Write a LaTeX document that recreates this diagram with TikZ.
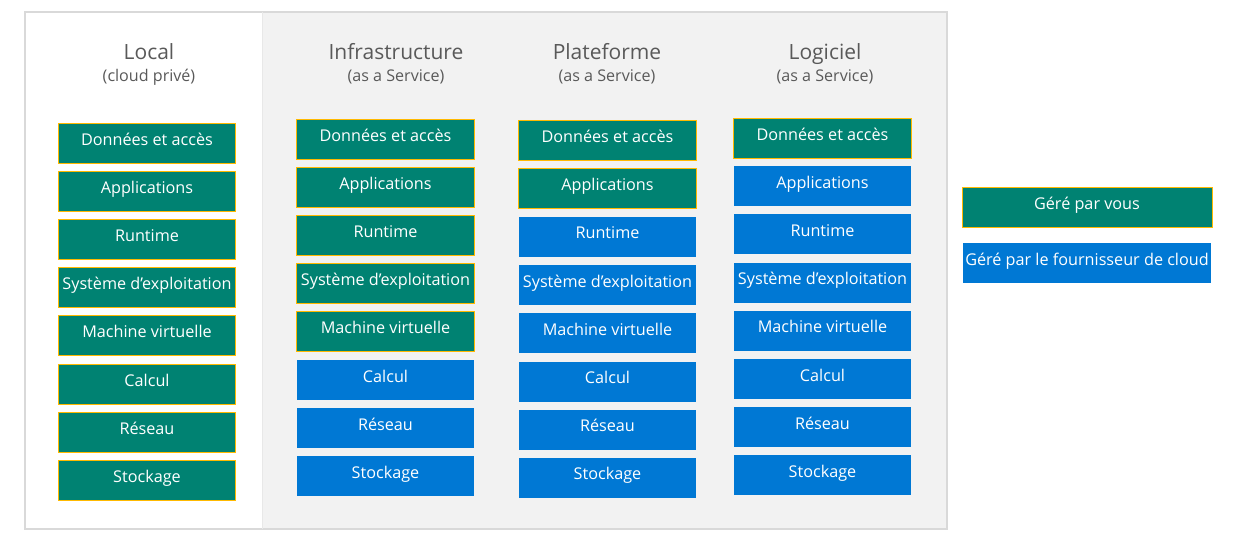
\documentclass[tikz,border=0pt]{standalone}
\usepackage{fontspec}
\setmainfont{Open Sans}
\usetikzlibrary{positioning}

\definecolor{ogreen}{HTML}{008272}
\definecolor{oblue}{HTML}{0078D4}
\definecolor{oyellow}{HTML}{FFB900}
\definecolor{ogray}{HTML}{F2F2F2}
\definecolor{oline}{HTML}{D9D9D9}
\definecolor{otext}{HTML}{595959}

\tikzset{
  layer/.style={rectangle, minimum width=177.5pt, minimum height=40pt, inner sep=0pt,
    text=white, font=\fontsize{16.2}{18}\selectfont, text height=12pt, text depth=8pt},
  selfbox/.style={layer, fill=ogreen, draw=oyellow, line width=1pt},
  cloudbox/.style={layer, fill=oblue},
  coltitle/.style={text=otext, font=\fontsize{21}{24}\selectfont, anchor=base},
  colsub/.style={text=otext, font=\fontsize{16.1}{18}\selectfont, anchor=base},
}

\begin{document}
\begin{tikzpicture}[x=1pt,y=-1pt]
  \useasboundingbox (0,0) rectangle (1249,549);

  % frame and grey part
  \fill[ogray] (262,12) rectangle (947,529);
  \draw[oline, line width=1.2pt] (25,12) rectangle (947,529);
  \draw[oline!60, line width=0.8pt] (262,12) -- (262,529);

  % column titles
  \foreach \name/\tx/\ttl/\sub in {local/149/Local/(cloud privé),
      iaas/396/Infrastructure/(as a Service),
      paas/607/Plateforme/(as a Service),
      saas/825/Logiciel/(as a Service)}
    {
    \node[coltitle] (\name-title) at (\tx,59) {\ttl};
    \node[colsub] (\name-sub) at (\tx,81.5) {\sub};
    }

  % stacks: column / centre x / first centre y / how many are yours
  \foreach \name/\cx/\cy/\ng in {local/147/143/8, iaas/385.5/139/5, paas/607.5/140.5/2, saas/822.5/138/1}
    {
    \foreach \lbl [count=\i] in {Données et accès, Applications, Runtime,
        Système d’exploitation, Machine virtuelle, Calcul, Réseau, Stockage}
      {
      \ifnum\i>\ng \def\boxstyle{cloudbox}\else\def\boxstyle{selfbox}\fi
      \node[\boxstyle] (\name-\i) at (\cx,{\cy+48.2*(\i-1)}) {\lbl};
      }
    }

  % legend
  \node[selfbox, minimum width=250pt] (self-key) at (1087,207) {Géré par vous};
  \node[cloudbox, minimum width=248pt] (cloud-key) at (1087,263) {Géré par le fournisseur de cloud};
\end{tikzpicture}
\end{document}
